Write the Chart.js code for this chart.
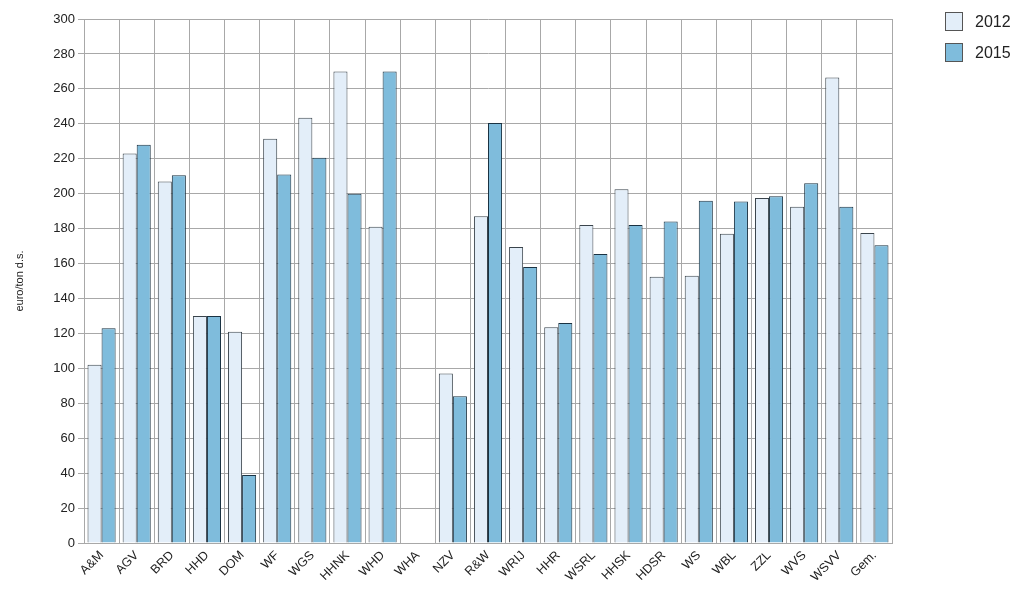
<!DOCTYPE html>
<html>
<head>
<meta charset="utf-8">
<script src="https://cdn.jsdelivr.net/npm/chart.js@4"></script>
<style>
  body { margin: 0; background: #fff; font-family: Arial, "Liberation Sans", sans-serif; }
  #wrap { position: relative; width: 1023px; height: 602px; }
  #legend { position: absolute; left: 945px; top: 6px; font-size: 16px; color: #222; }
  .item { display: flex; align-items: center; height: 31px; }
  .box { width: 16px; height: 17px; border: 1px solid #555; margin-right: 12px; }
</style>
</head>
<body>
<div id="wrap">
  <canvas id="chart" width="1023" height="602"></canvas>
  <div id="legend"></div>
</div>
<script>
// categorieen en waarden (euro/ton d.s.)
const labels = ['A&M', 'AGV', 'BRD', 'HHD', 'DOM', 'WF', 'WGS', 'HHNK', 'WHD', 'WHA', 'NZV', 'R&W',
  'WRIJ', 'HHR', 'WSRL', 'HHSK', 'HDSR', 'WS', 'WBL', 'ZZL', 'WVS', 'WSVV', 'Gem.'];
const values2012 = [102, 223, 207, 130, 121, 231.5, 243.5, 270, 181, null, 97, 187,
  169.5, 123.5, 182, 202.5, 152.5, 153, 177, 197.5, 192.5, 266.5, 177.5];
const values2015 = [123, 228, 210.5, 130, 39, 211, 220.5, 200, 270, null, 84, 240.5,
  158, 126, 165.5, 182, 184, 196, 195.5, 198.5, 206, 192.5, 170.5];
const yTicks = [0, 20, 40, 60, 80, 100, 120, 140, 160, 180, 200, 220, 240, 260, 280, 300];

const series = [
  { label: '2012', data: values2012, fill: '#e3eef9', border: '#3a444c' },
  { label: '2015', data: values2015, fill: '#7fbcdc', border: '#1a3242' }
];

// legenda als html
const legendDiv = document.getElementById('legend');
series.forEach(s => {
  legendDiv.innerHTML += `<div class="item"><span class="box" style="background:${s.fill}"></span>${s.label}</div>`;
});

const ctx = document.getElementById('chart').getContext('2d');
new Chart(ctx, {
  type: 'bar',
  data: {
    labels: labels,
    datasets: series.map(s => ({
      label: s.label,
      data: s.data,
      backgroundColor: s.fill,
      borderColor: s.border,
      borderWidth: 1
    }))
  },
  options: {
    responsive: false,
    animation: false,
    categoryPercentage: 0.8,
    barPercentage: 1.0,
    layout: { padding: { top: 19, right: 131, left: 0, bottom: 0 } },
    plugins: {
      legend: { display: false },
      tooltip: { enabled: false }
    },
    scales: {
      x: {
        grid: { color: '#a8a8a8', tickLength: 0, offset: true },
        border: { color: '#a8a8a8' },
        ticks: {
          minRotation: 45, maxRotation: 45, padding: 5,
          color: '#222', font: { size: 12.5, family: 'Arial, "Liberation Sans"' }
        },
        afterFit: scale => { scale.height = 59; }
      },
      y: {
        min: 0, max: 300,
        afterBuildTicks: scale => { scale.ticks = yTicks.map(v => ({ value: v })); },
        grid: { color: '#a8a8a8', tickLength: 6 },
        border: { color: '#a8a8a8' },
        ticks: { color: '#222', padding: 3, font: { size: 13, family: 'Arial, "Liberation Sans"' } },
        title: {
          display: true, text: 'euro/ton d.s.', color: '#222',
          padding: { top: 13, bottom: 4 },
          font: { size: 11, family: 'Arial, "Liberation Sans"' }
        },
        afterFit: scale => { scale.width = 84; }
      }
    }
  }
});
</script>
</body>
</html>
